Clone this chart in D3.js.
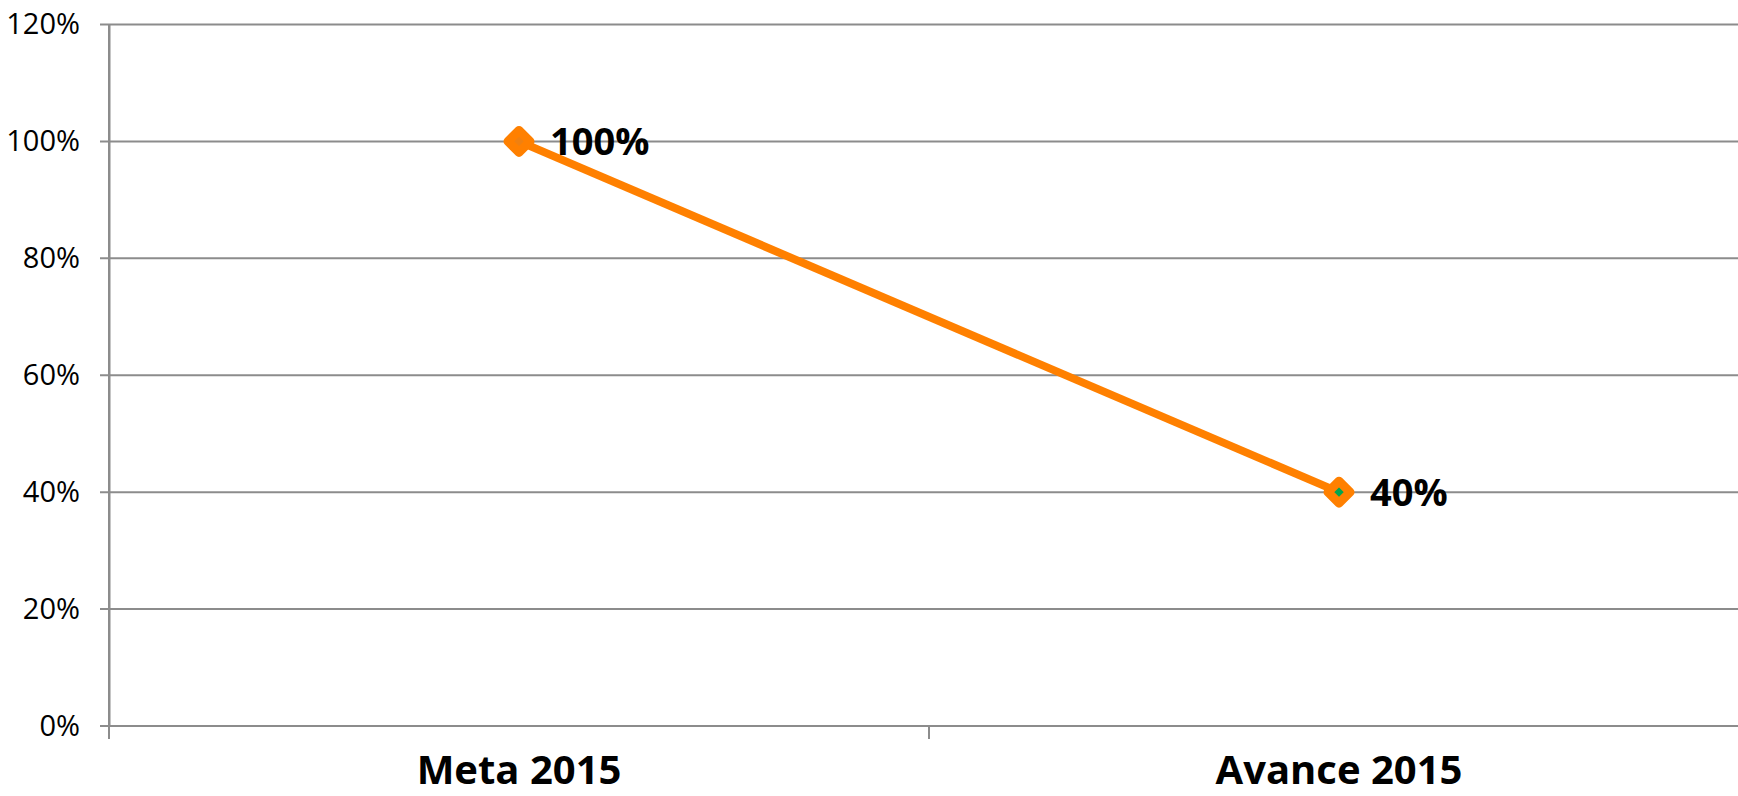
<!DOCTYPE html>
<html><head><meta charset="utf-8">
<script src="https://cdn.jsdelivr.net/npm/d3@7"></script>
<style>html,body{margin:0;padding:0;background:#fff;}svg{display:block;}</style>
</head><body>
<svg id="c" width="1738" height="796"></svg>
<script>
const categories = ["Meta 2015", "Avance 2015"];
const values = [1.00, 0.40];
const labels = ["100%", "40%"];
const yTicks = [0, 0.2, 0.4, 0.6, 0.8, 1.0, 1.2];

(function () {
const svg = d3.select("#c");
const mLeft = 109, mRight = 1749, mTop = 24.5, mBottom = 726;

const x = d3.scaleBand().domain(categories).range([mLeft, mRight]);
const y = d3.scaleLinear().domain([0, 1.2]).range([mBottom, mTop]);

// gridlines
svg.append("g").selectAll("line").data(yTicks).join("line")
  .attr("x1", mLeft - 9).attr("x2", 1738)
  .attr("y1", d => y(d)).attr("y2", d => y(d))
  .attr("stroke", "#8c8c8c").attr("stroke-width", 2);

// y axis
const yAxis = svg.append("g").attr("transform", `translate(${mLeft},0)`)
  .call(d3.axisLeft(y).tickValues(yTicks).tickFormat(d3.format(".0%")).tickSize(0).tickPadding(29));
yAxis.select(".domain").attr("stroke", "#8c8c8c").attr("stroke-width", 2);
yAxis.selectAll("text").attr("font-family", "Open Sans").attr("font-size", 29).attr("fill", "#000");

// x axis
const xAxis = svg.append("g").attr("transform", `translate(0,${mBottom})`)
  .call(d3.axisBottom(x).tickSize(0).tickFormat(""));
xAxis.select(".domain").remove();
const boundaries = [mLeft, (mLeft + mRight) / 2];
xAxis.selectAll(".bt").data(boundaries).join("line").attr("class", "bt")
  .attr("x1", d => d).attr("x2", d => d).attr("y1", 0).attr("y2", 13)
  .attr("stroke", "#8c8c8c").attr("stroke-width", 2);
svg.append("line").attr("x1", mLeft).attr("x2", 1738).attr("y1", mBottom).attr("y2", mBottom)
  .attr("stroke", "#8c8c8c").attr("stroke-width", 2);
svg.append("line").attr("x1", mLeft).attr("x2", mLeft).attr("y1", mTop).attr("y2", mBottom + 13)
  .attr("stroke", "#8c8c8c").attr("stroke-width", 2);

svg.append("g").selectAll("text").data(categories).join("text")
  .attr("x", d => x(d) + x.bandwidth() / 2).attr("y", 784)
  .attr("text-anchor", "middle").attr("font-family", "Open Sans").attr("font-weight", "bold")
  .attr("font-size", 40).attr("fill", "#000").text(d => d);

const pts = categories.map((c, i) => [x(c) + x.bandwidth() / 2, y(values[i])]);

svg.append("path").attr("d", d3.line()(pts)).attr("fill", "none")
  .attr("stroke", "#ff8000").attr("stroke-width", 8);

const fills = ["#f08010", "#00a550"];
svg.append("g").selectAll("path").data(pts).join("path")
  .attr("transform", d => `translate(${d[0]},${d[1]})`)
  .attr("d", "M0,-11L11,0L0,11L-11,0Z")
  .attr("fill", (d, i) => fills[i]).attr("stroke", "#ff8000")
  .attr("stroke-width", 9).attr("stroke-linejoin", "round");

svg.append("g").selectAll("text").data(pts).join("text")
  .attr("x", d => d[0] + 31).attr("y", d => d[1] + 14)
  .attr("font-family", "Open Sans").attr("font-weight", "bold")
  .attr("font-size", 38).attr("fill", "#000").text((d, i) => labels[i]);
})();
</script>
</body></html>
